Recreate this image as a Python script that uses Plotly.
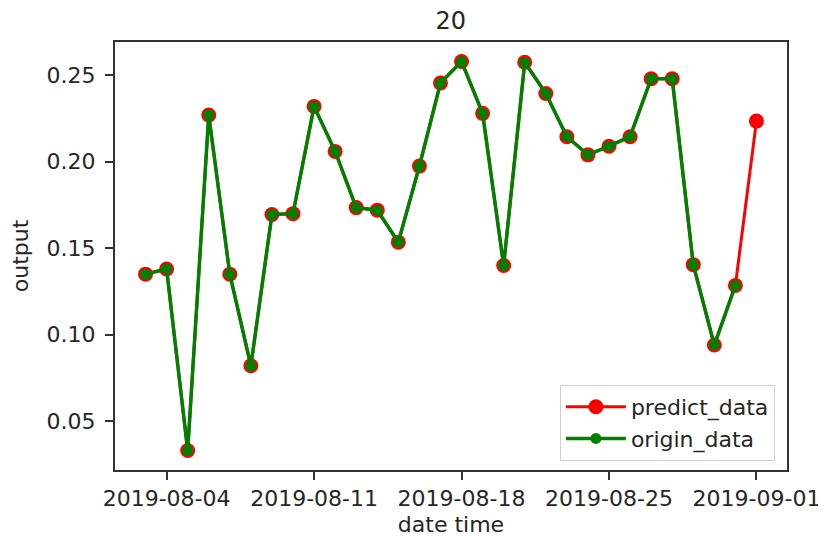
import plotly.graph_objects as go

dates = ["2019-08-03", "2019-08-04", "2019-08-05", "2019-08-06", "2019-08-07", "2019-08-08",
         "2019-08-09", "2019-08-10", "2019-08-11", "2019-08-12", "2019-08-13", "2019-08-14",
         "2019-08-15", "2019-08-16", "2019-08-17", "2019-08-18", "2019-08-19", "2019-08-20",
         "2019-08-21", "2019-08-22", "2019-08-23", "2019-08-24", "2019-08-25", "2019-08-26",
         "2019-08-27", "2019-08-28", "2019-08-29", "2019-08-30", "2019-08-31", "2019-09-01"]
origin_values = [0.135, 0.138, 0.033, 0.227, 0.135, 0.082, 0.1695, 0.170, 0.232, 0.206,
                 0.1735, 0.172, 0.1535, 0.1975, 0.2455, 0.258, 0.228, 0.140, 0.2575, 0.2395,
                 0.2145, 0.204, 0.209, 0.2145, 0.248, 0.248, 0.1405, 0.094, 0.1285]
predict_value = 0.2235
predict_values = origin_values + [predict_value]

x_tickvals = ["2019-08-04", "2019-08-11", "2019-08-18", "2019-08-25", "2019-09-01"]
y_tickvals = [0.05, 0.10, 0.15, 0.20, 0.25]

txt = "#262626"
font = dict(family="DejaVu Sans", size=22, color=txt)

fig = go.Figure()
fig.add_trace(go.Scatter(
    x=dates, y=predict_values, name="predict_data", mode="lines+markers",
    line=dict(color="#ff0000", width=3),
    marker=dict(color="#ff0000", size=15, symbol="circle"),
))
fig.add_trace(go.Scatter(
    x=dates[:len(origin_values)], y=origin_values, name="origin_data", mode="lines+markers",
    line=dict(color="#008000", width=3.5),
    marker=dict(color="#008000", size=11, symbol="circle"),
))

fig.update_layout(
    width=826, height=536,
    margin=dict(l=107, r=47, t=34, b=74, autoexpand=False),
    paper_bgcolor="white", plot_bgcolor="white",
    font=font,
    title=dict(text="20", x=0.536, xref="container", xanchor="center",
               y=0.976, yref="container", yanchor="middle",
               font=dict(family="DejaVu Sans", size=24, color=txt)),
    legend=dict(x=0.982, y=0.021, xanchor="right", yanchor="bottom",
                bgcolor="white", bordercolor="#d0d0d0", borderwidth=1,
                font=dict(family="DejaVu Sans", size=22, color=txt),
                itemwidth=60, tracegroupgap=0),
    showlegend=True,
)
fig.update_xaxes(
    type="date", range=["2019-08-01 13:12", "2019-09-02 10:48"],
    tickvals=x_tickvals, tickformat="%Y-%m-%d", automargin=False,
    showgrid=False, zeroline=False,
    showline=True, mirror=True, linecolor="#333333", linewidth=2,
    ticks="outside", ticklen=8, tickwidth=1.5, tickcolor="#333333",
    title=dict(text="date time", standoff=6, font=dict(size=22)),
)
fig.update_yaxes(
    range=[0.02175, 0.26925],
    tickvals=y_tickvals, tickformat=".2f", automargin=False,
    showgrid=False, zeroline=False,
    showline=True, mirror=True, linecolor="#333333", linewidth=2,
    ticks="outside", ticklen=8, tickwidth=1.5, tickcolor="#333333",
    ticklabelstandoff=5,
    title=dict(text="output", standoff=12, font=dict(size=22)),
)

fig.write_html("out.html")
